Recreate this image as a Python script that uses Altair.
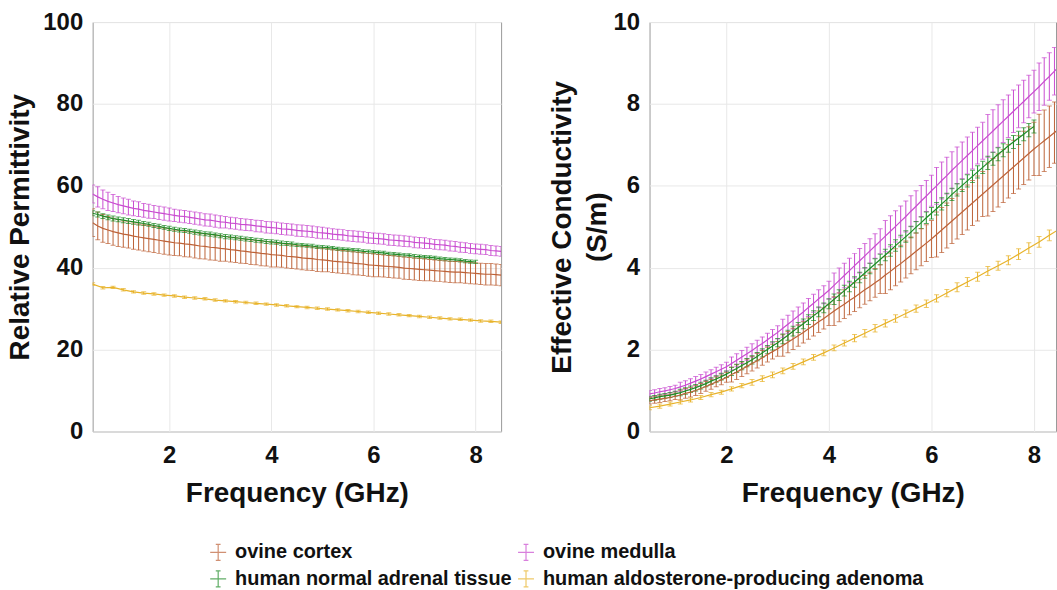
import altair as alt
import pandas as pd

# ---- tissue names and colours --------------------------------------------
TISSUES = ["ovine cortex", "ovine medulla",
           "human normal adrenal tissue", "human aldosterone-producing adenoma"]
COLORS = ["#bd6238", "#c94bd0", "#1f8c27", "#e8b32a"]

# ---- frequency grids (GHz) ------------------------------------------------
FREQ_FINE = [0.5, 0.6, 0.7, 0.8, 0.9, 1.0, 1.1, 1.2, 1.3, 1.4, 1.5, 1.6, 1.7, 1.8, 1.9,
             2.0, 2.1, 2.2, 2.3, 2.4, 2.5, 2.6, 2.7, 2.8, 2.9, 3.0, 3.1, 3.2, 3.3, 3.4,
             3.5, 3.6, 3.7, 3.8, 3.9, 4.0, 4.1, 4.2, 4.3, 4.4, 4.5, 4.6, 4.7, 4.8, 4.9,
             5.0, 5.1, 5.2, 5.3, 5.4, 5.5, 5.6, 5.7, 5.8, 5.9, 6.0, 6.1, 6.2, 6.3, 6.4,
             6.5, 6.6, 6.7, 6.8, 6.9, 7.0, 7.1, 7.2, 7.3, 7.4, 7.5, 7.6, 7.7, 7.8, 7.9,
             8.0, 8.1, 8.2, 8.3, 8.4, 8.5]
FREQ_HUMAN = FREQ_FINE[:76]  # human normal tissue measured up to 8 GHz
FREQ_APA = [0.5, 0.7, 0.9, 1.1, 1.3, 1.5, 1.7, 1.9, 2.1, 2.3, 2.5, 2.7, 2.9, 3.1, 3.3,
            3.5, 3.7, 3.9, 4.1, 4.3, 4.5, 4.7, 4.9, 5.1, 5.3, 5.5, 5.7, 5.9, 6.1, 6.3,
            6.5, 6.7, 6.9, 7.1, 7.3, 7.5, 7.7, 7.9, 8.1, 8.3, 8.5]

# ---- relative permittivity: mean and standard deviation ------------------
EPS_CORTEX = [51.0, 50.2, 49.6, 49.2, 48.8, 48.5, 48.2, 48.0, 47.7, 47.5, 47.3, 47.1, 46.9, 46.7, 46.5,
              46.3, 46.1, 46.0, 45.8, 45.7, 45.5, 45.3, 45.2, 45.0, 44.9, 44.7, 44.6, 44.4, 44.3, 44.1,
              44.0, 43.8, 43.7, 43.5, 43.4, 43.2, 43.1, 43.0, 42.8, 42.7, 42.6, 42.4, 42.3, 42.2, 42.0,
              41.9, 41.8, 41.6, 41.5, 41.4, 41.3, 41.1, 41.0, 40.9, 40.7, 40.6, 40.5, 40.4, 40.3, 40.2,
              40.1, 39.9, 39.8, 39.7, 39.6, 39.5, 39.4, 39.3, 39.2, 39.1, 39.0, 38.9, 38.9, 38.8, 38.7,
              38.6, 38.5, 38.4, 38.4, 38.3, 38.2]
EPS_CORTEX_SD = [3.4, 3.4, 3.4, 3.3, 3.3, 3.3, 3.2, 3.2, 3.2, 3.2, 3.2, 3.2, 3.2, 3.2, 3.2,
                 3.2, 3.1, 3.1, 3.1, 3.1, 3.1, 3.1, 3.1, 3.1, 3.1, 3.1, 3.0, 3.0, 3.0, 3.0,
                 3.0, 3.0, 3.0, 3.0, 3.0, 3.0, 2.9, 2.9, 2.9, 2.9, 2.9, 2.9, 2.9, 2.9, 2.9,
                 2.9, 2.8, 2.8, 2.8, 2.8, 2.8, 2.8, 2.8, 2.8, 2.8, 2.8, 2.7, 2.7, 2.7, 2.7,
                 2.7, 2.7, 2.7, 2.7, 2.7, 2.7, 2.6, 2.6, 2.6, 2.6, 2.6, 2.6, 2.6, 2.6, 2.6,
                 2.6, 2.6, 2.6, 2.6, 2.6, 2.6]
EPS_MEDULLA = [58.0, 57.3, 56.7, 56.2, 55.8, 55.4, 55.1, 54.8, 54.5, 54.3, 54.0, 53.8, 53.6, 53.4, 53.2,
               53.0, 52.8, 52.6, 52.5, 52.3, 52.1, 51.9, 51.7, 51.6, 51.4, 51.2, 51.1, 50.9, 50.8, 50.6,
               50.5, 50.4, 50.2, 50.1, 49.9, 49.8, 49.7, 49.5, 49.4, 49.3, 49.1, 49.0, 48.9, 48.8, 48.6,
               48.5, 48.4, 48.2, 48.1, 48.0, 47.8, 47.7, 47.6, 47.5, 47.3, 47.2, 47.1, 47.0, 46.8, 46.7,
               46.6, 46.5, 46.4, 46.2, 46.1, 46.0, 45.9, 45.7, 45.6, 45.5, 45.3, 45.2, 45.0, 44.9, 44.7,
               44.6, 44.5, 44.4, 44.2, 44.1, 44.0]
EPS_MEDULLA_SD = [2.2, 2.5, 2.3, 2.2, 2.1, 2.0, 1.9, 1.9, 1.8, 1.8, 1.7, 1.7, 1.6, 1.6, 1.6,
                  1.6, 1.5, 1.5, 1.5, 1.5, 1.5, 1.5, 1.5, 1.5, 1.5, 1.5, 1.4, 1.4, 1.4, 1.4,
                  1.4, 1.4, 1.4, 1.4, 1.4, 1.4, 1.4, 1.4, 1.4, 1.4, 1.4, 1.4, 1.4, 1.4, 1.4,
                  1.4, 1.3, 1.3, 1.3, 1.3, 1.3, 1.3, 1.3, 1.3, 1.3, 1.3, 1.3, 1.3, 1.3, 1.3,
                  1.3, 1.3, 1.3, 1.3, 1.3, 1.3, 1.2, 1.2, 1.2, 1.2, 1.2, 1.2, 1.2, 1.2, 1.2,
                  1.2, 1.2, 1.2, 1.2, 1.2, 1.2]
EPS_HUMAN = [53.3, 53.0, 52.6, 52.3, 52.0, 51.8, 51.6, 51.4, 51.2, 51.0, 50.8, 50.6, 50.3, 50.1, 49.8,
             49.6, 49.4, 49.2, 49.1, 48.9, 48.7, 48.5, 48.3, 48.2, 48.0, 47.8, 47.6, 47.5, 47.3, 47.2,
             47.0, 46.9, 46.7, 46.6, 46.4, 46.3, 46.2, 46.0, 45.9, 45.8, 45.6, 45.5, 45.4, 45.3, 45.1,
             45.0, 44.9, 44.8, 44.6, 44.5, 44.4, 44.3, 44.2, 44.0, 43.9, 43.8, 43.7, 43.6, 43.4, 43.3,
             43.2, 43.1, 43.0, 42.8, 42.7, 42.6, 42.5, 42.4, 42.2, 42.1, 42.0, 41.9, 41.8, 41.6, 41.5,
             41.4]
EPS_HUMAN_SD = [0.6, 0.6, 0.6, 0.6, 0.6, 0.6, 0.6, 0.6, 0.6, 0.6, 0.5, 0.5, 0.5, 0.5, 0.5,
                0.5, 0.5, 0.5, 0.5, 0.5, 0.5, 0.5, 0.5, 0.5, 0.5, 0.5, 0.5, 0.5, 0.5, 0.5,
                0.5, 0.5, 0.5, 0.5, 0.5, 0.5, 0.5, 0.5, 0.5, 0.5, 0.4, 0.4, 0.4, 0.4, 0.4,
                0.4, 0.4, 0.4, 0.4, 0.4, 0.4, 0.4, 0.4, 0.4, 0.4, 0.4, 0.4, 0.4, 0.4, 0.4,
                0.4, 0.4, 0.4, 0.4, 0.4, 0.4, 0.4, 0.4, 0.4, 0.4, 0.4, 0.4, 0.4, 0.4, 0.4,
                0.4]
EPS_APA = [36.0, 35.1, 35.2, 34.6, 34.1, 33.8, 33.6, 33.3, 33.1, 32.8, 32.6, 32.4, 32.1, 31.9,
           31.7, 31.5, 31.3, 31.1, 30.9, 30.7, 30.5, 30.3, 30.1, 29.9, 29.7, 29.5, 29.3, 29.1,
           28.9, 28.7, 28.5, 28.3, 28.1, 27.9, 27.7, 27.5, 27.4, 27.2, 27.0, 26.9, 26.7]
EPS_APA_SD = [0.3, 0.3, 0.3, 0.3, 0.3, 0.3, 0.3, 0.3, 0.3, 0.3, 0.3, 0.3, 0.3, 0.3,
              0.3, 0.3, 0.3, 0.3, 0.3, 0.3, 0.3, 0.3, 0.3, 0.3, 0.3, 0.3, 0.3, 0.3,
              0.3, 0.3, 0.3, 0.3, 0.3, 0.3, 0.3, 0.3, 0.3, 0.3, 0.3, 0.3, 0.3]

# ---- effective conductivity (S/m): mean and standard deviation ----------
SIG_CORTEX = [0.75, 0.77, 0.79, 0.81, 0.83, 0.86, 0.89, 0.93, 0.96, 1.00, 1.05, 1.10, 1.15, 1.21, 1.26,
              1.32, 1.39, 1.45, 1.52, 1.59, 1.66, 1.73, 1.80, 1.88, 1.95, 2.02, 2.10, 2.18, 2.26, 2.34,
              2.42, 2.51, 2.59, 2.68, 2.76, 2.85, 2.94, 3.03, 3.11, 3.20, 3.28, 3.37, 3.46, 3.54, 3.63,
              3.72, 3.82, 3.91, 4.01, 4.10, 4.20, 4.30, 4.40, 4.50, 4.60, 4.70, 4.81, 4.92, 5.03, 5.14,
              5.25, 5.36, 5.47, 5.58, 5.69, 5.80, 5.91, 6.02, 6.13, 6.24, 6.35, 6.46, 6.57, 6.68, 6.79,
              6.90, 7.00, 7.10, 7.20, 7.30, 7.40]
SIG_CORTEX_SD = [0.08, 0.08, 0.08, 0.08, 0.08, 0.08, 0.12, 0.12, 0.12, 0.12, 0.12, 0.12, 0.12, 0.12, 0.12,
                 0.12, 0.18, 0.18, 0.18, 0.18, 0.18, 0.18, 0.18, 0.18, 0.18, 0.18, 0.26, 0.26, 0.26, 0.26,
                 0.26, 0.26, 0.26, 0.26, 0.26, 0.26, 0.35, 0.35, 0.35, 0.35, 0.35, 0.35, 0.35, 0.35, 0.35,
                 0.35, 0.45, 0.45, 0.45, 0.45, 0.45, 0.45, 0.45, 0.45, 0.45, 0.45, 0.55, 0.55, 0.55, 0.55,
                 0.55, 0.55, 0.55, 0.55, 0.55, 0.55, 0.65, 0.65, 0.65, 0.65, 0.65, 0.65, 0.65, 0.65, 0.65,
                 0.65, 0.75, 0.75, 0.75, 0.75, 0.75]
SIG_MEDULLA = [0.92, 0.94, 0.97, 0.99, 1.02, 1.05, 1.09, 1.13, 1.18, 1.23, 1.28, 1.34, 1.40, 1.46, 1.52,
               1.58, 1.66, 1.74, 1.82, 1.90, 1.98, 2.07, 2.15, 2.24, 2.33, 2.42, 2.52, 2.62, 2.72, 2.82,
               2.92, 3.03, 3.13, 3.24, 3.34, 3.45, 3.57, 3.69, 3.81, 3.93, 4.05, 4.17, 4.29, 4.41, 4.53,
               4.65, 4.77, 4.89, 5.01, 5.13, 5.25, 5.38, 5.50, 5.63, 5.75, 5.88, 6.00, 6.13, 6.25, 6.38,
               6.50, 6.62, 6.74, 6.86, 6.98, 7.10, 7.22, 7.34, 7.46, 7.58, 7.70, 7.82, 7.94, 8.06, 8.18,
               8.30, 8.42, 8.55, 8.67, 8.80, 8.92]
SIG_MEDULLA_SD = [0.08, 0.08, 0.08, 0.08, 0.08, 0.08, 0.11, 0.11, 0.11, 0.11, 0.11, 0.11, 0.11, 0.11, 0.11,
                  0.11, 0.16, 0.16, 0.16, 0.16, 0.16, 0.16, 0.16, 0.16, 0.16, 0.16, 0.22, 0.22, 0.22, 0.22,
                  0.22, 0.22, 0.22, 0.22, 0.22, 0.22, 0.30, 0.30, 0.30, 0.30, 0.30, 0.30, 0.30, 0.30, 0.30,
                  0.30, 0.38, 0.38, 0.38, 0.38, 0.38, 0.38, 0.38, 0.38, 0.38, 0.38, 0.45, 0.45, 0.45, 0.45,
                  0.45, 0.45, 0.45, 0.45, 0.45, 0.45, 0.52, 0.52, 0.52, 0.52, 0.52, 0.52, 0.52, 0.52, 0.52,
                  0.52, 0.58, 0.58, 0.58, 0.58, 0.58]
SIG_HUMAN = [0.80, 0.82, 0.85, 0.87, 0.89, 0.92, 0.95, 0.99, 1.03, 1.07, 1.12, 1.17, 1.23, 1.28, 1.34,
             1.40, 1.47, 1.54, 1.61, 1.68, 1.75, 1.83, 1.92, 2.00, 2.09, 2.17, 2.26, 2.35, 2.45, 2.54,
             2.63, 2.73, 2.83, 2.92, 3.02, 3.12, 3.23, 3.33, 3.44, 3.54, 3.65, 3.76, 3.87, 3.98, 4.09,
             4.20, 4.31, 4.42, 4.54, 4.65, 4.76, 4.87, 4.99, 5.10, 5.22, 5.33, 5.44, 5.56, 5.67, 5.79,
             5.90, 6.01, 6.12, 6.23, 6.34, 6.45, 6.56, 6.66, 6.77, 6.87, 6.98, 7.07, 7.17, 7.26, 7.36,
             7.45]
SIG_HUMAN_SD = [0.06, 0.06, 0.06, 0.06, 0.06, 0.06, 0.08, 0.08, 0.08, 0.08, 0.08, 0.08, 0.08, 0.08, 0.08,
                0.08, 0.10, 0.10, 0.10, 0.10, 0.10, 0.10, 0.10, 0.10, 0.10, 0.10, 0.12, 0.12, 0.12, 0.12,
                0.12, 0.12, 0.12, 0.12, 0.12, 0.12, 0.13, 0.13, 0.13, 0.13, 0.13, 0.13, 0.13, 0.13, 0.13,
                0.13, 0.14, 0.14, 0.14, 0.14, 0.14, 0.14, 0.14, 0.14, 0.14, 0.14, 0.15, 0.15, 0.15, 0.15,
                0.15, 0.15, 0.15, 0.15, 0.15, 0.15, 0.16, 0.16, 0.16, 0.16, 0.16, 0.16, 0.16, 0.16, 0.16,
                0.16]
SIG_APA = [0.58, 0.62, 0.67, 0.72, 0.77, 0.83, 0.90, 0.96, 1.04, 1.12, 1.20, 1.29, 1.38, 1.48,
           1.59, 1.70, 1.81, 1.92, 2.04, 2.16, 2.28, 2.40, 2.52, 2.64, 2.76, 2.88, 3.00, 3.12,
           3.25, 3.38, 3.52, 3.65, 3.78, 3.92, 4.05, 4.18, 4.33, 4.48, 4.63, 4.79, 4.95]
SIG_APA_SD = [0.05, 0.05, 0.05, 0.05, 0.05, 0.05, 0.05, 0.05, 0.05, 0.05, 0.07, 0.07, 0.07, 0.07,
              0.07, 0.07, 0.07, 0.07, 0.07, 0.07, 0.09, 0.09, 0.09, 0.09, 0.09, 0.09, 0.09, 0.09,
              0.09, 0.09, 0.11, 0.11, 0.11, 0.11, 0.11, 0.11, 0.13, 0.13, 0.13, 0.13, 0.13]


def long_table(series):
    rows = []
    for order, (name, freqs, means, sds) in enumerate(series):
        for f, m, s in zip(freqs, means, sds):
            rows.append({"freq": f, "mean": m, "lo": m - s, "hi": m + s,
                         "tissue": name, "order": order})
    return pd.DataFrame(rows)


eps_df = long_table([
    (TISSUES[0], FREQ_FINE, EPS_CORTEX, EPS_CORTEX_SD),
    (TISSUES[1], FREQ_FINE, EPS_MEDULLA, EPS_MEDULLA_SD),
    (TISSUES[2], FREQ_HUMAN, EPS_HUMAN, EPS_HUMAN_SD),
    (TISSUES[3], FREQ_APA, EPS_APA, EPS_APA_SD),
])
sig_df = long_table([
    (TISSUES[0], FREQ_FINE, SIG_CORTEX, SIG_CORTEX_SD),
    (TISSUES[1], FREQ_FINE, SIG_MEDULLA, SIG_MEDULLA_SD),
    (TISSUES[2], FREQ_HUMAN, SIG_HUMAN, SIG_HUMAN_SD),
    (TISSUES[3], FREQ_APA, SIG_APA, SIG_APA_SD),
])

FONT = "Liberation Sans"
ERRBAR_GLYPH = "M-1,0H1M0,-1V1M-0.3,-1H0.3M-0.3,1H0.3"

color = alt.Color(
    "tissue:N",
    scale=alt.Scale(domain=TISSUES, range=COLORS),
    legend=alt.Legend(
        title=None, orient="none", legendX=116, legendY=522, columns=2,
        direction="horizontal",
        symbolType=ERRBAR_GLYPH, symbolSize=256, symbolStrokeWidth=1.2,
        symbolFillColor="transparent",
        labelFont=FONT, labelFontWeight="bold", labelFontSize=20,
        labelColor="#111", labelOffset=7, columnPadding=3, rowPadding=5,
        labelLimit=500,
    ),
)


def panel(df, x_max, width, y_max, y_step, y_title, y_title_pad):
    x = alt.X("freq:Q", scale=alt.Scale(domain=[0.5, x_max], nice=False, zero=False),
              axis=alt.Axis(values=[2, 4, 6, 8], title="Frequency (GHz)",
                            labelPadding=12, titlePadding=12))
    y_axis = alt.Axis(values=list(range(0, y_max + 1, y_step)), title=y_title,
                      labelPadding=10, titlePadding=y_title_pad, titleLineHeight=35)
    scale_y = alt.Scale(domain=[0, y_max], nice=False)
    base = alt.Chart(df).encode(x=x, color=color,
                                order=alt.Order("order:Q"))
    bars = base.mark_rule(strokeWidth=1, clip=True).encode(
        y=alt.Y("lo:Q", scale=scale_y, axis=y_axis), y2="hi:Q")
    cap_lo = base.mark_tick(orient="horizontal", size=5, thickness=1, clip=True).encode(
        y=alt.Y("lo:Q", scale=scale_y))
    cap_hi = base.mark_tick(orient="horizontal", size=5, thickness=1, clip=True).encode(
        y=alt.Y("hi:Q", scale=scale_y))
    line = base.mark_line(strokeWidth=1.2, clip=True).encode(
        y=alt.Y("mean:Q", scale=scale_y), detail="tissue:N")
    return alt.layer(bars, cap_lo, cap_hi, line).properties(width=width, height=411)


left = panel(eps_df, 8.5, 410, 100, 20, "Relative Permittivity", 8)
right = panel(sig_df, 8.43, 408, 10, 2, ["Effective Conductivity", "(S/m)"], 2)

chart = alt.hconcat(left, right, spacing=45).properties(
    padding={"left": 6, "top": 8, "right": 0, "bottom": 0},
    background="white",
).configure_view(
    stroke="#9a9a9a", strokeWidth=1
).configure_axis(
    labelFont=FONT, labelFontWeight="bold", labelFontSize=24, labelColor="#111",
    titleFont=FONT, titleFontWeight="bold", titleFontSize=28, titleColor="#111",
    grid=True, gridColor="#e8e8e8", gridWidth=1, domain=False, ticks=False,
    labelFlush=False, labelOverlap=False,
)

chart.save("out.html", embed_options={"renderer": "svg", "actions": False})
